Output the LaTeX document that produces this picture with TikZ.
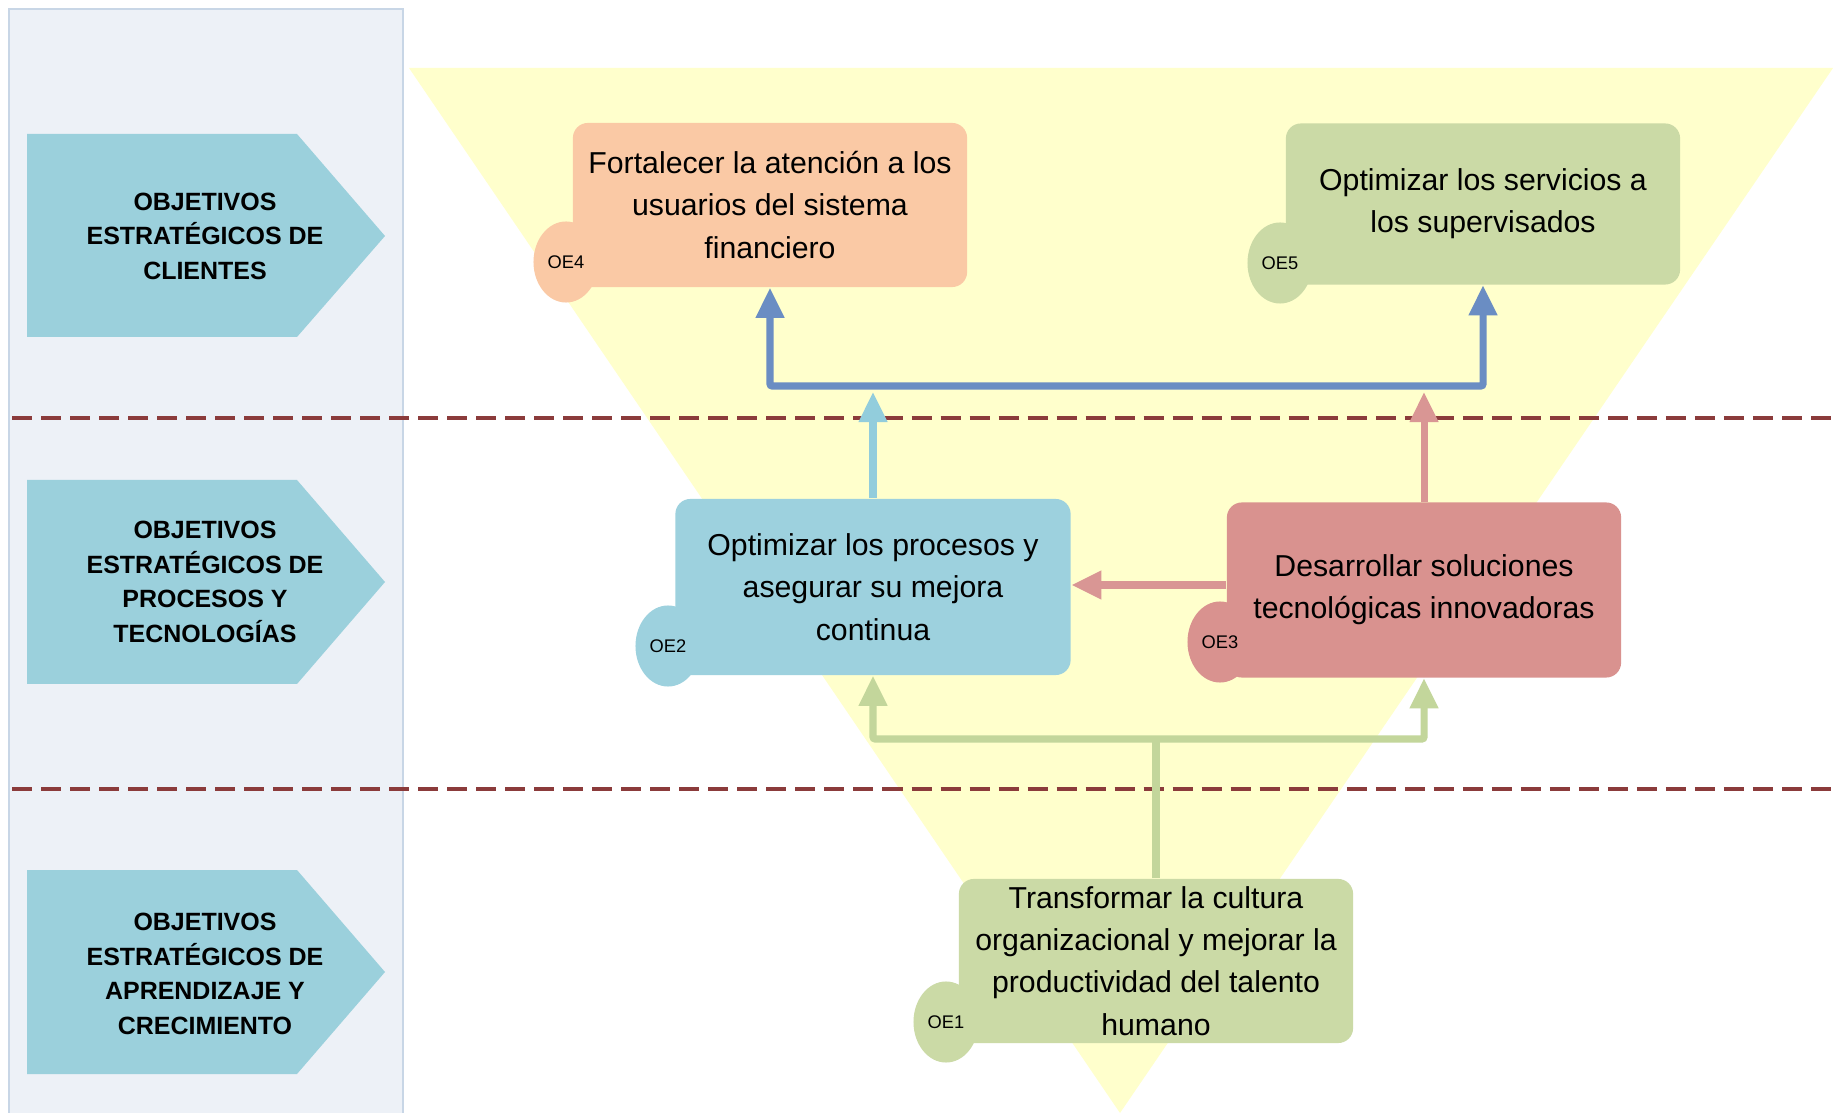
\documentclass[tikz,border=0pt]{standalone}
\usepackage{fontspec}
\setmainfont{Liberation Sans}
\usetikzlibrary{shapes.geometric,arrows.meta}
\definecolor{panelfill}{HTML}{EDF1F7}
\definecolor{panelline}{HTML}{C8D6E6}
\definecolor{trifill}{HTML}{FFFFCC}
\definecolor{pentfill}{HTML}{9BD0DC}
\definecolor{peach}{HTML}{FAC9A5}
\definecolor{sage}{HTML}{CBDAA6}
\definecolor{sky}{HTML}{9DD1DE}
\definecolor{rose}{HTML}{D9928F}
\definecolor{arrblue}{HTML}{6A8DC3}
\definecolor{arrsky}{HTML}{92CDDC}
\definecolor{arrrose}{HTML}{D99694}
\definecolor{arrsage}{HTML}{C3D69B}
\definecolor{dashred}{HTML}{8B3B3B}
\begin{document}
\begin{tikzpicture}[x=0.01cm,y=-0.01cm,
  pent/.style={fill=pentfill},
  lbl/.style={align=center,font=\bfseries\fontsize{7.1}{9.8}\selectfont,inner sep=0pt},
  objbox/.style={rounded corners=0.15cm,minimum width=3.94cm,inner sep=0pt,align=center,
     font=\fontsize{8.6}{12}\selectfont},
  oetag/.style={ellipse,minimum width=0.65cm,minimum height=0.81cm,inner sep=0pt,
     font=\fontsize{5.2}{6}\selectfont},
  sepline/.style={draw=dashred,line width=0.9pt,dash pattern=on 0.2cm off 0.09cm},
  conn/.style={line width=2pt,rounded corners=0.02cm},
  tip/.style={-{Triangle[length=0.3cm,width=0.27cm]}},
  tips/.style={{Triangle[length=0.3cm,width=0.27cm]}-{Triangle[length=0.3cm,width=0.27cm]}}
]
\useasboundingbox (0,0) rectangle (1833,1113);
\fill[white] (0,0) rectangle (1833,1113);
% left panel
\fill[panelfill] (9,9) rectangle (403,1113);
\draw[panelline,line width=0.6pt] (9,1113) -- (9,9) -- (403,9) -- (403,1113);
% yellow funnel
\fill[trifill] (409,68) -- (1833,68) -- (1120,1113) -- cycle;
% pentagon labels
\fill[pent] (27,134) -- (297,134) -- (385,236) -- (297,337) -- (27,337) -- cycle;
\fill[pent] (27,480) -- (297,480) -- (385,582) -- (297,684) -- (27,684) -- cycle;
\fill[pent] (27,870) -- (297,870) -- (385,972) -- (297,1074) -- (27,1074) -- cycle;
\node[lbl] (l1) at (205,236) {OBJETIVOS\\ESTRATÉGICOS DE\\CLIENTES};
\node[lbl] (l2) at (205,582) {OBJETIVOS\\ESTRATÉGICOS DE\\PROCESOS Y\\TECNOLOGÍAS};
\node[lbl] (l3) at (205,974) {OBJETIVOS\\ESTRATÉGICOS DE\\APRENDIZAJE Y\\CRECIMIENTO};
% separators
\draw[sepline] (12,418) -- (1833,418);
\draw[sepline] (12,789) -- (1833,789);
% objective boxes
\node[objbox,fill=peach,minimum height=1.64cm] (oe4) at (770,205)
  {Fortalecer la atención a los\\usuarios del sistema\\financiero};
\node[oetag,fill=peach] (t4) at (566,262) {OE4};
\node[objbox,fill=sage,minimum height=1.61cm] (oe5) at (1483,204)
  {Optimizar los servicios a\\los supervisados};
\node[oetag,fill=sage] (t5) at (1280,263) {OE5};
\node[objbox,fill=sky,minimum width=3.95cm,minimum height=1.76cm] (oe2) at (873,587)
  {Optimizar los procesos y\\asegurar su mejora\\continua};
\node[oetag,fill=sky] (t2) at (668,646) {OE2};
\node[objbox,fill=rose,minimum height=1.75cm] (oe3) at (1424,590)
  {Desarrollar soluciones\\tecnológicas innovadoras};
\node[oetag,fill=rose] (t3) at (1220,642) {OE3};
\node[objbox,fill=sage,minimum height=1.64cm] (oe1) at (1156,961)
  {Transformar la cultura\\organizacional y mejorar la\\productividad del talento\\humano};
\node[oetag,fill=sage] (t1) at (946,1022) {OE1};
% connectors
\coordinate (bj) at (0,386);
\coordinate (up) at (0,392);
\coordinate (gj) at (0,739);
\coordinate (pl) at (0,585);
\draw[conn,tips,arrblue] (oe4.south) -- (oe4.south |- bj) -- (oe5.south |- bj) -- (oe5.south);
\draw[conn,tip,arrsky] (oe2.north) -- (oe2.north |- up);
\draw[conn,tip,arrrose] (oe3.north) -- (oe3.north |- up);
\draw[conn,tip,arrrose] (oe3.west |- pl) -- (oe2.east |- pl);
\draw[conn,tips,arrsage] (oe2.south) -- (oe2.south |- gj) -- (oe3.south |- gj) -- (oe3.south);
\draw[conn,arrsage] (oe1.north) -- (oe1.north |- gj);
\end{tikzpicture}
\end{document}
